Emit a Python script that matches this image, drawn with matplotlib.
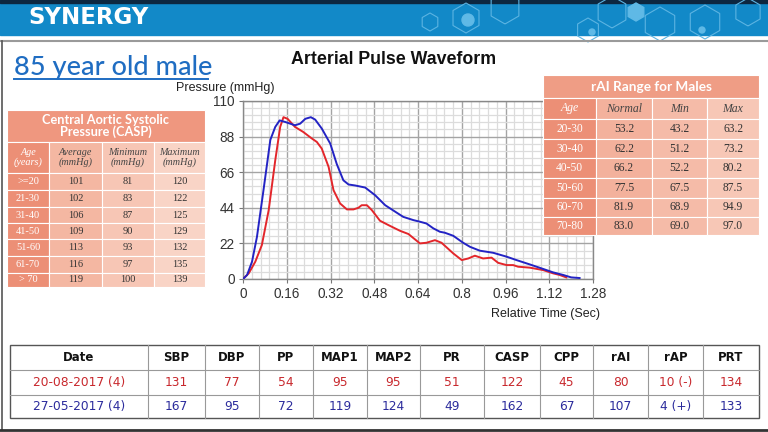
import numpy as np
import matplotlib
matplotlib.use("Agg")
import matplotlib.pyplot as plt
from matplotlib.patches import Rectangle, RegularPolygon, Circle

# waveform data
blue_t = [0, 0.015, 0.033, 0.051, 0.075, 0.10, 0.118, 0.134, 0.155, 0.19, 0.209, 0.228, 0.248, 0.264,
          0.288, 0.319, 0.343, 0.367, 0.386, 0.41, 0.447, 0.483, 0.52, 0.562, 0.586, 0.623, 0.647,
          0.671, 0.696, 0.72, 0.738, 0.769, 0.805, 0.83, 0.866, 0.915, 0.964, 1.0, 1.049, 1.098,
          1.134, 1.171, 1.2, 1.231]
blue_p = [0, 2.5, 10.7, 26, 55, 86, 94, 98, 97, 95, 96, 99, 100, 98.5, 93, 83.7, 71, 61, 58.4, 57.8,
          56.5, 51.8, 45.6, 41, 38.4, 36.4, 35.4, 34.3, 31.3, 29.2, 28.6, 26.7, 22.4, 19.9, 17.5,
          16.2, 13.8, 11.7, 9.0, 6.2, 4.1, 2.5, 1.0, 0.6]
red_t = [0, 0.021, 0.045, 0.069, 0.094, 0.118, 0.136, 0.148, 0.163, 0.19, 0.22, 0.252, 0.27, 0.288,
         0.313, 0.331, 0.355, 0.38, 0.404, 0.422, 0.434, 0.453, 0.471, 0.501, 0.532, 0.574, 0.605,
         0.647, 0.671, 0.702, 0.726, 0.769, 0.8, 0.824, 0.848, 0.878, 0.909, 0.933, 0.964, 0.988,
         1.006, 1.049, 1.098, 1.134, 1.158, 1.182]
red_p = [0, 3.5, 10.7, 21, 42.6, 73.4, 94, 100, 99, 94, 90.9, 86.8, 84.7, 80.6, 69.3, 54.9, 46.7,
         43, 43, 44, 45.6, 45.6, 42.6, 36, 33.3, 29.8, 27.8, 22, 22.4, 24, 22.4, 15.8, 11.7, 12.7,
         14.4, 12.7, 13.2, 10, 8.6, 8.6, 7.6, 7.0, 5.5, 3.5, 2.5, 1.0]

x_ticks = [0, 0.16, 0.32, 0.48, 0.64, 0.8, 0.96, 1.12, 1.28]
y_ticks = [0, 22, 44, 66, 88, 110]

# CASP reference table
casp_title = "Central Aortic Systolic\nPressure (CASP)"
casp_head = ["Age\n(years)", "Average\n(mmHg)", "Minimum\n(mmHg)", "Maximum\n(mmHg)"]
casp_age = [">=20", "21-30", "31-40", "41-50", "51-60", "61-70", "> 70"]
casp_avg = [101, 102, 106, 109, 113, 116, 119]
casp_min = [81, 83, 87, 90, 93, 97, 100]
casp_max = [120, 122, 125, 129, 132, 135, 139]

# rAI reference table
rai_title = "rAI Range for Males"
rai_head = ["Age", "Normal", "Min", "Max"]
rai_age = ["20-30", "30-40", "40-50", "50-60", "60-70", "70-80"]
rai_normal = ["53.2", "62.2", "66.2", "77.5", "81.9", "83.0"]
rai_min = ["43.2", "51.2", "52.2", "67.5", "68.9", "69.0"]
rai_max = ["63.2", "73.2", "80.2", "87.5", "94.9", "97.0"]

# measurement table
meas_head = ["Date", "SBP", "DBP", "PP", "MAP1", "MAP2", "PR", "CASP", "CPP", "rAI", "rAP", "PRT"]
meas_red = ["20-08-2017 (4)", "131", "77", "54", "95", "95", "51", "122", "45", "80", "10 (-)", "134"]
meas_blue = ["27-05-2017 (4)", "167", "95", "72", "119", "124", "49", "162", "67", "107", "4 (+)", "133"]

RED = "#e3262b"
BLUE = "#2323c4"

fig = plt.figure(figsize=(7.68, 4.32), dpi=100)
fig.patch.set_facecolor("white")

# ---- waveform chart ----
ax = fig.add_axes([243 / 768, 1 - 279 / 432, 350 / 768, 178 / 432])
ax.plot(red_t, red_p, color=RED, lw=1.4, zorder=3)
ax.plot(blue_t, blue_p, color=BLUE, lw=1.4, zorder=3)
ax.set_xlim(0, 1.28)
ax.set_ylim(0, 110)
ax.set_xticks(x_ticks)
ax.set_xticklabels(["0" if v == 0 else ("%g" % v) for v in x_ticks])
ax.set_yticks(y_ticks)
ax.set_xticks(np.arange(0, 1.2801, 0.032), minor=True)
ax.set_yticks(np.arange(0, 110.01, 4.4), minor=True)
ax.grid(which="minor", color="#dcdcdc", lw=0.9)
ax.grid(which="major", color="#a4a4a4", lw=1.0)
ax.set_axisbelow(True)
ax.tick_params(which="major", direction="out", length=3, color="#777", labelsize=9.8,
               labelcolor="#333", pad=3)
ax.tick_params(which="minor", length=0)
for s in ax.spines.values():
    s.set_color("#888")
    s.set_linewidth(1.0)
for lab in ax.get_xticklabels() + ax.get_yticklabels():
    lab.set_fontfamily("Liberation Sans")

# ---- overlay in pixel coords ----
ov = fig.add_axes([0, 0, 1, 1], zorder=5)
ov.set_xlim(0, 768)
ov.set_ylim(432, 0)
ov.axis("off")
ov.patch.set_alpha(0)

# header band
ov.add_patch(Rectangle((0, 0), 768, 35, color="#1289c8", zorder=1))
ov.add_patch(Rectangle((0, 0), 768, 3, color="#0d2740", zorder=2))
hexes = [(430, 22, 9, False), (466, 18, 15, False), (505, 8, 16, False), (588, 30, 12, False),
         (612, 12, 16, False), (636, 12, 9, True), (660, 24, 17, False), (705, 22, 17, False),
         (748, 12, 14, False)]
for hx, hy, hr, filled in hexes:
    if filled:
        ov.add_patch(RegularPolygon((hx, hy), 6, radius=hr, color="#5fb9e6", zorder=2))
    else:
        ov.add_patch(RegularPolygon((hx, hy), 6, radius=hr, fill=False, ec="#5cb4e2",
                                    lw=0.8, zorder=2))
for cx, cy, cr in [(468, 20, 6), (592, 32, 3), (702, 30, 3)]:
    ov.add_patch(Circle((cx, cy), cr, color="#5fb9e6", zorder=2))
ov.text(28, 18, "SYNERGY", color="white", fontsize=16.5, fontweight="bold",
        family="DejaVu Sans", va="center", ha="left", zorder=3)

# frame lines
ov.plot([0, 768], [41, 41], color="#9a9a9a", lw=1.5)
ov.plot([2, 2], [41, 430], color="#555", lw=1.2)
ov.plot([0, 768], [430, 430], color="#333", lw=2)

ov.text(14, 75, "85 year old male", color="#1f6dc2", fontsize=19.5, family="Lato",
        weight="medium", ha="left", va="baseline")
ov.plot([14, 208], [79, 79], color="#1f6dc2", lw=1.4)
ov.text(394, 60, "Arterial Pulse Waveform", fontsize=12.8, fontweight="bold",
        family="Liberation Sans", ha="center", va="center", color="#111")
ov.text(176, 88, "Pressure (mmHg)", fontsize=9, family="Liberation Sans",
        ha="left", va="center", color="#222")
ov.text(600, 314, "Relative Time (Sec)", fontsize=9, family="Liberation Sans",
        ha="right", va="center", color="#222")


def cell(x0, x1, y0, y1, fc, txt, tc="#333", size=7, style="normal", family="Liberation Serif",
         weight="normal"):
    ov.add_patch(Rectangle((x0, y0), x1 - x0, y1 - y0, fc=fc, ec="white", lw=0.8, zorder=4))
    ov.text((x0 + x1) / 2, (y0 + y1) / 2, txt, color=tc, fontsize=size, style=style,
            family=family, weight=weight, ha="center", va="center", zorder=5, linespacing=0.95)


# CASP table
cx = [7, 49, 102, 154, 205]
cy = [142, 173, 190, 207, 223, 239, 256, 273, 287]
col_fc = ["#ec8f76", "#f4b7a2", "#f7c6b5", "#f9d4c6"]
ov.add_patch(Rectangle((7, 110), 198, 32, fc="#ef977f", ec="white", lw=0.8, zorder=4))
ov.text(106, 126, casp_title, color="white", fontsize=9.2, family="Lato", weight="bold",
        ha="center", va="center", zorder=5, linespacing=1.0)
for j in range(4):
    cell(cx[j], cx[j + 1], cy[0], cy[1], col_fc[j], casp_head[j],
         tc="white" if j == 0 else "#444", size=7.3, style="italic")
for i in range(len(casp_age)):
    vals = [casp_age[i], casp_avg[i], casp_min[i], casp_max[i]]
    for j in range(4):
        cell(cx[j], cx[j + 1], cy[i + 1], cy[i + 2], col_fc[j], str(vals[j]),
             tc="white" if j == 0 else "#333", size=7.5)

# rAI table
rx = [543, 596, 652, 707, 759]
ry = [98, 119, 139, 158, 178, 198, 217, 235]
rcol_fc = ["#ec8f76", "#f3b19c", "#f5bba8", "#f7c7b6"]
ov.add_patch(Rectangle((543, 75), 216, 23, fc="#ef9d85", ec="white", lw=0.8, zorder=4))
ov.text(651, 87, rai_title, color="white", fontsize=9.8, family="Lato", weight="bold",
        ha="center", va="center", zorder=5)
for j in range(4):
    cell(rx[j], rx[j + 1], ry[0], ry[1], rcol_fc[j], rai_head[j],
         tc="white" if j == 0 else "#444", size=8.5, style="italic")
for i in range(len(rai_age)):
    vals = [rai_age[i], rai_normal[i], rai_min[i], rai_max[i]]
    for j in range(4):
        cell(rx[j], rx[j + 1], ry[i + 1], ry[i + 2], rcol_fc[j], vals[j],
             tc="white" if j == 0 else "#333", size=8.3)

# measurement table
mx = [10, 148, 205, 259, 313, 367, 420, 484, 540, 593, 648, 703, 759]
my = [345, 370, 395, 418]
ov.add_patch(Rectangle((mx[0], my[0]), mx[-1] - mx[0], my[-1] - my[0], fc="white",
                       ec="#555", lw=1.0, zorder=4))
for x in mx[1:-1]:
    ov.plot([x, x], [my[0], my[-1]], color="#999", lw=0.8, zorder=5)
for y in my[1:-1]:
    ov.plot([mx[0], mx[-1]], [y, y], color="#999", lw=0.8, zorder=5)
for j in range(len(meas_head)):
    xc = (mx[j] + mx[j + 1]) / 2
    ov.text(xc, (my[0] + my[1]) / 2, meas_head[j], fontsize=8.5, weight="bold",
            family="DejaVu Sans", ha="center", va="center", color="#111", zorder=6)
    ov.text(xc, (my[1] + my[2]) / 2, meas_red[j], fontsize=8.8, family="DejaVu Sans",
            ha="center", va="center", color="#c8282d", zorder=6)
    ov.text(xc, (my[2] + my[3]) / 2, meas_blue[j], fontsize=8.8, family="DejaVu Sans",
            ha="center", va="center", color="#2b2b9c", zorder=6)

fig.savefig("out.png", dpi=100)
